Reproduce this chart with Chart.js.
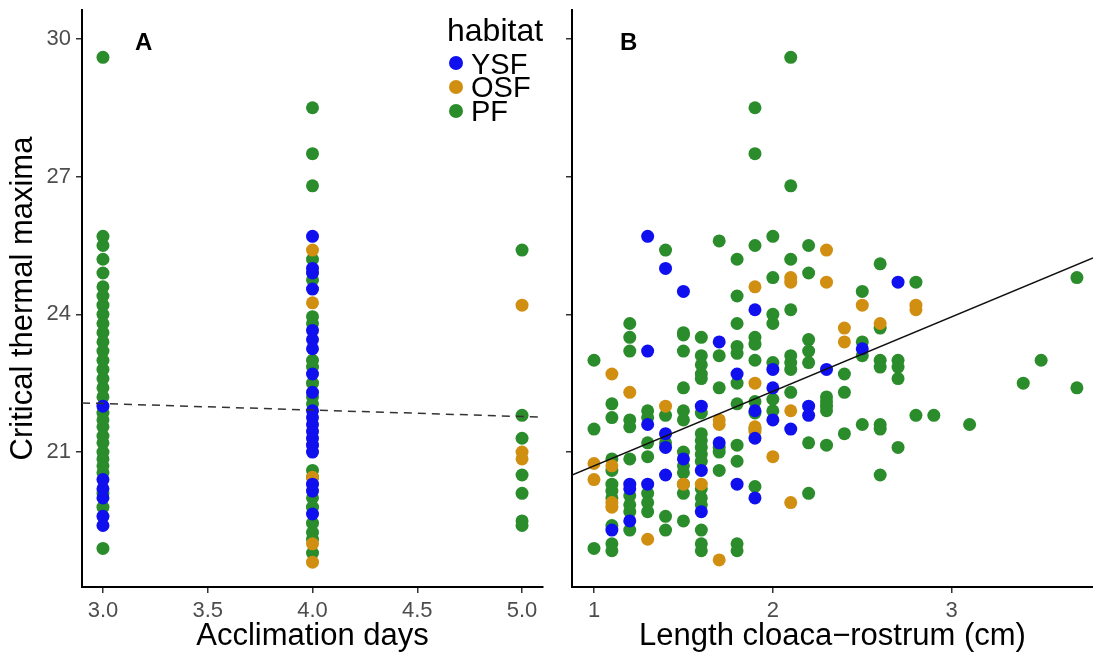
<!DOCTYPE html>
<html>
<head>
<meta charset="utf-8">
<script src="https://cdn.jsdelivr.net/npm/chart.js@4.4.1/dist/chart.umd.min.js"></script>
<style>
  body { margin: 0; background: #fff; }
  #wrap { position: relative; width: 1093px; height: 659px; overflow: hidden; font-family: "Liberation Sans", Arial, sans-serif; }
  canvas { position: absolute; top: 0; }
  .tag { position: absolute; font-weight: bold; font-size: 24px; line-height: 24px; color: #000; }
  .lg { position: absolute; color: #000; white-space: nowrap; }
  .dot { position: absolute; width: 14px; height: 14px; border-radius: 50%; }
</style>
</head>
<body>
<div id="wrap">
  <canvas id="chartA" width="550" height="659" style="left:0"></canvas>
  <canvas id="chartB" width="543" height="659" style="left:550px"></canvas>
  <div class="tag" style="left:135px; top:30px">A</div>
  <div class="tag" style="left:620px; top:30px">B</div>
  <div id="legend"></div>
</div>

<script>
// habitats and colours
const habitats = ["YSF", "OSF", "PF"];
const habitatColors = ["#1010ee", "#d18f12", "#2b8c2b"];

// axis ticks
const daysTicks = [3.0, 3.5, 4.0, 4.5, 5.0];
const lengthTicks = [1, 2, 3];
const ctmaxTicks = [21, 24, 27, 30];

// panel A: critical thermal maxima per acclimation days
const ysfA3 = [22.0, 20.4, 20.2, 20.0, 19.6, 19.4];
const ysfA4 = [25.7, 25.0, 24.9, 24.55, 23.65, 23.45, 23.25, 22.7, 22.3, 21.9, 21.75, 21.6, 21.45, 21.3, 21.15, 21.0, 20.3, 20.15, 19.65];
const osfA4 = [25.4, 24.25, 20.45, 19.0, 18.6];
const osfA5 = [24.2, 21.0, 20.85];
const pfA3 = [29.6, 25.7, 25.5, 25.2, 24.9, 24.6, 24.4, 24.2, 24.0, 23.8, 23.6, 23.4, 23.2, 23.0, 22.8, 22.6, 22.4, 22.2,
              21.85, 21.7, 21.55, 21.35, 21.2, 21.0, 20.85, 20.7, 20.55, 20.1, 19.8, 18.9];
const pfA4 = [28.5, 27.5, 26.8, 25.2, 24.75, 23.95, 23.8, 23.0, 22.85, 22.5, 22.2, 22.05, 20.6, 20.45, 20.0, 19.8, 19.45, 19.25, 19.1, 18.8];
const pfA5 = [25.4, 21.8, 21.3, 20.5, 20.1, 19.5, 19.4];

// panel B: [length cloaca-rostrum, critical thermal maxima]
const ysfB = [[1.3,25.7],[1.4,25.0],[1.5,24.5],[1.9,24.1],[1.3,23.2],[1.7,23.4],[2.0,22.8],[2.3,22.8],[1.8,22.7],[2.0,22.4],
  [1.3,21.6],[1.6,22.0],[1.9,21.9],[2.0,21.7],[2.1,21.5],[2.2,22.0],[2.2,21.8],[1.4,21.4],[1.4,21.1],[1.5,20.85],[1.6,20.6],
  [1.7,21.2],[1.8,20.3],[1.9,21.3],[1.4,20.5],[1.2,20.3],[1.2,20.2],[1.3,20.3],[1.6,19.7],[1.9,20.0],[1.2,19.5],[1.1,19.3],
  [2.7,24.7],[2.5,23.25]];
const osfB = [[2.3,25.4],[2.1,24.8],[2.1,24.7],[2.3,24.7],[1.9,24.6],[1.1,22.7],[1.9,22.5],[1.2,22.3],[1.4,22.0],[1.7,21.7],
  [1.7,21.6],[1.9,21.55],[1.9,21.45],[2.1,21.9],[2.0,20.9],[1.0,20.75],[1.0,20.4],[1.1,20.7],[1.1,19.9],[1.1,19.8],[1.5,20.3],
  [1.6,20.3],[2.1,19.9],[1.3,19.1],[1.7,18.65],[2.5,24.2],[2.8,24.2],[2.8,24.1],[2.4,23.7],[2.4,23.4],[2.6,23.8]];
const pfB = [[2.1,29.6],[1.9,28.5],[1.9,27.5],[2.1,26.8],[1.4,25.4],[1.7,25.6],[1.8,25.2],[1.9,25.5],[2.0,25.7],[2.2,25.5],
  [2.1,25.2],[2.0,24.8],[2.2,24.9],[1.8,24.4],[2.0,24.0],[2.0,23.8],[2.1,24.1],[1.2,23.8],[1.5,23.6],[1.8,23.8],[1.2,23.5],
  [1.2,23.2],[1.5,23.55],[1.5,23.2],[1.6,23.5],[1.7,23.1],[1.8,23.3],[1.8,23.15],[1.9,23.5],[1.9,23.35],[1.6,23.1],[1.6,22.9],
  [1.6,22.7],[1.6,22.6],[1.0,23.0],[1.9,23.0],[2.0,22.95],[2.1,23.1],[2.1,22.95],[2.1,22.8],[2.2,23.45],[2.2,23.2],[2.2,22.95],
  [1.8,22.5],[1.5,22.4],[1.7,22.4],[2.1,22.3],[1.1,22.05],[1.1,21.75],[1.4,21.8],[1.3,21.9],[1.3,21.75],[1.2,21.7],[1.2,21.55],
  [1.5,21.9],[1.5,21.7],[1.6,21.85],[1.8,22.05],[1.9,22.1],[1.9,21.85],[2.0,22.15],[2.0,21.9],[2.3,22.1],[2.3,21.9],[1.0,21.5],
  [1.4,21.2],[1.3,21.2],[1.3,20.9],[1.2,20.85],[1.1,20.85],[1.1,20.6],[1.5,21.0],[1.5,20.7],[1.5,20.55],[1.6,21.4],[1.6,21.25],
  [1.6,21.1],[1.6,20.95],[1.6,20.8],[1.7,21.1],[1.7,21.0],[1.8,21.15],[1.8,20.8],[1.7,20.6],[1.9,21.5],[2.2,21.2],[2.3,21.15],
  [1.1,20.3],[1.1,20.15],[1.1,20.0],[1.3,20.1],[1.3,19.9],[1.3,19.7],[1.2,20.05],[1.2,19.85],[1.2,19.7],[1.5,20.3],[1.5,20.1],
  [1.6,20.2],[1.6,20.0],[1.6,19.85],[1.9,20.25],[2.2,20.1],[1.4,19.6],[1.5,19.5],[1.4,19.3],[1.2,19.3],[1.1,19.4],[1.1,19.0],
  [1.1,18.85],[1.0,18.9],[1.6,19.3],[1.6,19.0],[1.6,18.85],[1.8,19.0],[1.8,18.85],[2.6,25.1],[2.8,24.7],[2.5,24.5],[2.6,23.7],
  [2.5,23.4],[2.5,23.1],[2.6,23.0],[2.6,22.85],[2.7,23.0],[2.7,22.85],[2.7,22.6],[2.4,22.7],[2.4,22.3],[2.3,22.2],[2.3,22.0],
  [2.5,21.6],[2.6,21.6],[2.6,21.5],[2.8,21.8],[2.9,21.8],[3.1,21.6],[2.4,21.4],[2.7,21.1],[2.6,20.5],[3.4,22.5],[3.5,23.0],
  [3.7,22.4],[3.7,24.8]];

// fitted lines, end points
const fitA = [[2.9, 22.07], [5.1, 21.76]];
const fitB = [[0.877, 20.5], [3.79, 25.23]];

Chart.defaults.font.family = '"Liberation Sans", Arial, sans-serif';

const tickColor = "#4d4d4d";

function column(day, values) {
    return values.map(v => ({ x: day, y: v }));
}
function pairs(arr) {
    return arr.map(p => ({ x: p[0], y: p[1] }));
}

function pointSet(label, color, data) {
    return {
        label: label,
        data: data,
        backgroundColor: color,
        borderWidth: 0,
        pointRadius: 6.5,
        pointHoverRadius: 6.5
    };
}

function fitSet(data, dashed) {
    return {
        label: "fit",
        data: pairs(data),
        showLine: true,
        borderColor: dashed ? "#333" : "#111",
        borderWidth: 1.5,
        borderDash: dashed ? [8, 6] : [],
        pointRadius: 0,
        pointHoverRadius: 0
    };
}

function axis(min, max, ticks, title, opts) {
    return {
        type: "linear",
        min: min,
        max: max,
        afterBuildTicks: s => { s.ticks = ticks.map(v => ({ value: v })); },
        afterFit: s => {
            if (opts.width) { s.width = opts.width; s.paddingTop = 0; s.paddingBottom = 0; }
            if (opts.height) { s.height = opts.height; s.paddingLeft = 0; s.paddingRight = 0; }
        },
        border: { display: true, color: "#000", width: 2 },
        grid: { display: true, drawOnChartArea: false, drawTicks: true, tickLength: 6, color: "#333", lineWidth: 1.5 },
        ticks: {
            display: opts.labels !== false,
            color: tickColor,
            font: { size: 22 },
            padding: 5,
            callback: opts.fmt || (v => v)
        },
        title: {
            display: !!title,
            text: title,
            color: "#000",
            font: { size: 31 },
            padding: { top: 5, bottom: 4 }
        }
    };
}

const baseOptions = {
    responsive: false,
    animation: false,
    devicePixelRatio: 1,
    events: [],
    plugins: { legend: { display: false }, tooltip: { enabled: false } }
};

// Painel A
new Chart(document.getElementById("chartA"), {
    type: "scatter",
    data: {
        datasets: [
            fitSet(fitA, true),
            pointSet(habitats[0], habitatColors[0], column(3, ysfA3).concat(column(4, ysfA4))),
            pointSet(habitats[1], habitatColors[1], column(4, osfA4).concat(column(5, osfA5))),
            pointSet(habitats[2], habitatColors[2], column(3, pfA3).concat(column(4, pfA4), column(5, pfA5)))
        ]
    },
    options: {
        ...baseOptions,
        layout: { autoPadding: false, padding: { top: 10, right: 7, left: 0, bottom: 0 } },
        scales: {
            x: axis(2.9, 5.1, daysTicks, "Acclimation days", { height: 72, fmt: v => v.toFixed(1) }),
            y: axis(18.06, 30.63, ctmaxTicks, "Critical thermal maxima", { width: 82 })
        }
    }
});

// Painel B
new Chart(document.getElementById("chartB"), {
    type: "scatter",
    data: {
        datasets: [
            fitSet(fitB, false),
            pointSet(habitats[0], habitatColors[0], pairs(ysfB)),
            pointSet(habitats[1], habitatColors[1], pairs(osfB)),
            pointSet(habitats[2], habitatColors[2], pairs(pfB))
        ]
    },
    options: {
        ...baseOptions,
        layout: { autoPadding: false, padding: { top: 10, right: 0, left: 0, bottom: 0 } },
        scales: {
            x: axis(0.877, 3.79, lengthTicks, "Length cloaca\u2212rostrum (cm)", { height: 72 }),
            y: axis(18.06, 30.63, ctmaxTicks, "", { width: 22, labels: false })
        }
    }
});

// legenda (habitat)
const legend = document.getElementById("legend");
const title = document.createElement("div");
title.className = "lg";
title.style.cssText = "left:447px; top:14px; font-size:32px; line-height:32px;";
title.textContent = "habitat";
legend.appendChild(title);
habitats.forEach((h, i) => {
    const dot = document.createElement("span");
    dot.className = "dot";
    dot.style.cssText = `left:449px; top:${56 + i * 24}px; background:${habitatColors[i]};`;
    legend.appendChild(dot);
    const txt = document.createElement("div");
    txt.className = "lg";
    txt.style.cssText = `left:471px; top:${52 + i * 23.3}px; font-size:29px; line-height:24px;`;
    txt.textContent = h;
    legend.appendChild(txt);
});
</script>
</body>
</html>
